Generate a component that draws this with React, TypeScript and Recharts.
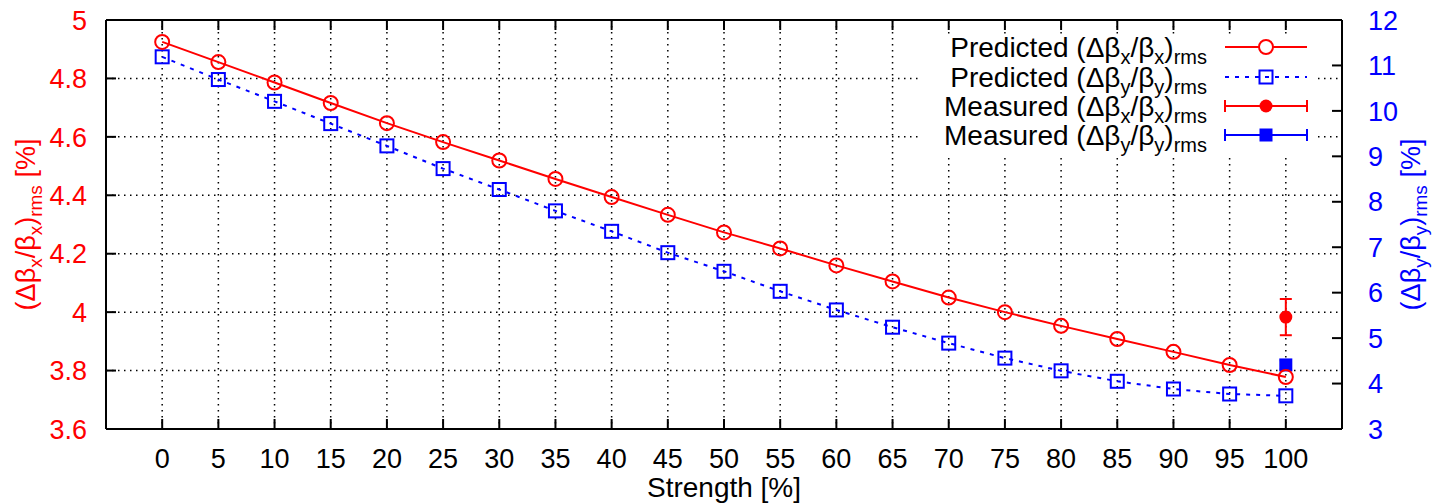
import React from "react";
import {
  ComposedChart,
  Line,
  Scatter,
  XAxis,
  YAxis,
  CartesianGrid,
  ReferenceLine,
  ErrorBar,
  Legend,
} from "recharts";

// Quadrupole strength scan [%]
const strength = [0, 5, 10, 15, 20, 25, 30, 35, 40, 45, 50, 55, 60, 65, 70, 75, 80, 85, 90, 95, 100];
// Predicted horizontal beta-beat, rms [%] (left axis)
const predictedX = [4.925, 4.856, 4.786, 4.716, 4.647, 4.582, 4.519, 4.456, 4.394, 4.333, 4.273, 4.218, 4.16, 4.105, 4.05, 4.0, 3.953, 3.908, 3.864, 3.819, 3.778];
// Predicted vertical beta-beat, rms [%] (right axis)
const predictedY = [11.19, 10.69, 10.21, 9.72, 9.23, 8.73, 8.27, 7.8, 7.35, 6.88, 6.47, 6.03, 5.62, 5.24, 4.89, 4.56, 4.28, 4.05, 3.88, 3.77, 3.73];
// Measured values at full strength, with errors
const measuredStrength = [100];
const measuredX = [3.983];
const measuredXErr = [0.062];
const measuredY = [4.41];
const measuredYErr = [0.1];

const xTicks = [0, 5, 10, 15, 20, 25, 30, 35, 40, 45, 50, 55, 60, 65, 70, 75, 80, 85, 90, 95, 100];
const leftTicks = [3.6, 3.8, 4.0, 4.2, 4.4, 4.6, 4.8, 5.0];
const rightTicks = [3, 4, 5, 6, 7, 8, 9, 10, 11, 12];

const predXData = strength.map((x, i) => ({ x, y: predictedX[i] }));
const predYData = strength.map((x, i) => ({ x, y: predictedY[i] }));
const measXData = measuredStrength.map((x, i) => ({ x, y: measuredX[i], err: measuredXErr[i] }));
const measYData = measuredStrength.map((x, i) => ({ x, y: measuredY[i], err: measuredYErr[i] }));

const W = 1437;
const H = 504;
const LEFT_W = 98;
const RIGHT_W = 103;
const TOP = 20;
const BOTTOM_H = 75;
const PLOT_H = H - TOP - BOTTOM_H;

const FONT = "'Liberation Sans', Arial, Helvetica, sans-serif";
const RED = "#ff0000";
const BLUE = "#0000ff";
const TICK_FS = 27;
const TICK_LEN = 10;

const fmt = (v: number) => String(Math.round(v * 10) / 10);

const BottomTick = (props: any) => {
  const { x, y, payload } = props;
  return (
    <g>
      <line x1={x} y1={y} x2={x} y2={y - TICK_LEN} stroke="#000" strokeWidth={2} />
      <line x1={x} y1={y - PLOT_H} x2={x} y2={y - PLOT_H + TICK_LEN} stroke="#000" strokeWidth={2} />
      <text x={x} y={y + 39} textAnchor="middle" fontSize={TICK_FS} fontFamily={FONT} fill="#000">
        {fmt(payload.value)}
      </text>
    </g>
  );
};

const LeftTick = (props: any) => {
  const { x, y, payload } = props;
  const v = payload.value;
  const inner = v > 3.61 && v < 4.99;
  return (
    <g>
      {inner && <line x1={x} y1={y} x2={x + TICK_LEN} y2={y} stroke="#000" strokeWidth={2} />}
      <text x={x - 19} y={y} dy="0.36em" textAnchor="end" fontSize={TICK_FS} fontFamily={FONT} fill={RED}>
        {fmt(v)}
      </text>
    </g>
  );
};

const RightTick = (props: any) => {
  const { x, y, payload } = props;
  const v = payload.value;
  const inner = v > 3 && v < 12;
  return (
    <g>
      {inner && <line x1={x} y1={y} x2={x - TICK_LEN} y2={y} stroke="#000" strokeWidth={2} />}
      <text x={x + 26} y={y} dy="0.36em" textAnchor="start" fontSize={TICK_FS} fontFamily={FONT} fill={BLUE}>
        {fmt(v)}
      </text>
    </g>
  );
};

// Axis title "(Δβ_a/β_a)_rms [%]" with subscripts, rotated
const BetaTitle = ({ x, y, sub, color }: { x: number; y: number; sub: string; color: string }) => (
  <text
    x={x}
    y={y}
    transform={`rotate(-90, ${x}, ${y})`}
    textAnchor="middle"
    fontSize={27}
    fontFamily={FONT}
    fill={color}
  >
    <tspan>(Δβ</tspan>
    <tspan fontSize={19} dy={7}>{sub}</tspan>
    <tspan dy={-7}>/β</tspan>
    <tspan fontSize={19} dy={7}>{sub}</tspan>
    <tspan dy={-7}>)</tspan>
    <tspan fontSize={19} dy={7}>rms</tspan>
    <tspan dy={-7}> [%]</tspan>
  </text>
);

const leftTitle = (props: any) => {
  const vb = props.viewBox;
  return <BetaTitle x={vb.x + 27} y={vb.y + vb.height / 2} sub="x" color={RED} />;
};

const rightTitle = (props: any) => {
  const vb = props.viewBox;
  return <BetaTitle x={vb.x + 78} y={vb.y + vb.height / 2} sub="y" color={BLUE} />;
};

const xTitle = (props: any) => {
  const vb = props.viewBox;
  return (
    <text x={vb.x + vb.width / 2} y={vb.y + 68} textAnchor="middle" fontSize={28} fontFamily={FONT} fill="#000">
      Strength [%]
    </text>
  );
};

const OpenCircle = (props: any) => {
  const { cx, cy, index } = props;
  if (cx == null || cy == null) return <g key={`c${index}`} />;
  return <circle key={`c${index}`} cx={cx} cy={cy} r={7} fill="none" stroke={RED} strokeWidth={2} />;
};

const OpenSquare = (props: any) => {
  const { cx, cy, index } = props;
  if (cx == null || cy == null) return <g key={`s${index}`} />;
  return <rect key={`s${index}`} x={cx - 6.5} y={cy - 6.5} width={13} height={13} fill="none" stroke={BLUE} strokeWidth={2} />;
};

const FilledCircle = (props: any) => <circle cx={props.cx} cy={props.cy} r={6.5} fill={RED} />;
const FilledSquare = (props: any) => <rect x={props.cx - 6.5} y={props.cy - 6.5} width={13} height={13} fill={BLUE} />;

const legendRows = [
  { label: "Predicted", sub: "x", kind: "predX" },
  { label: "Predicted", sub: "y", kind: "predY" },
  { label: "Measured", sub: "x", kind: "measX" },
  { label: "Measured", sub: "y", kind: "measY" },
];

const LEG_W = 396;
const LEG_H = 122;

const LegendBox = () => {
  const rowY = [13, 43, 72, 101];
  const x1 = 305;
  const x2 = 387;
  const mx = 346;
  return (
    <svg width={LEG_W} height={LEG_H} style={{ display: "block", background: "#fff", overflow: "visible" }}>
      {legendRows.map((r, i) => {
        const y = rowY[i];
        const color = r.sub === "x" ? RED : BLUE;
        return (
          <g key={i}>
            <text x={287} y={y + 10} textAnchor="end" fontSize={28} fontFamily={FONT} fill="#000">
              <tspan>{r.label} (Δβ</tspan>
              <tspan fontSize={20} dy={7}>{r.sub}</tspan>
              <tspan dy={-7}>/β</tspan>
              <tspan fontSize={20} dy={7}>{r.sub}</tspan>
              <tspan dy={-7}>)</tspan>
              <tspan fontSize={20} dy={7}>rms</tspan>
            </text>
            {r.kind === "predX" && (
              <g>
                <line x1={x1} y1={y} x2={x2} y2={y} stroke={RED} strokeWidth={2} />
                <circle cx={mx} cy={y} r={7} fill="#fff" stroke={RED} strokeWidth={2} />
              </g>
            )}
            {r.kind === "predY" && (
              <g>
                <line x1={x1} y1={y} x2={x2} y2={y} stroke={BLUE} strokeWidth={2} strokeDasharray="4 6" />
                <rect x={mx - 6.5} y={y - 6.5} width={13} height={13} fill="none" stroke={BLUE} strokeWidth={2} />
              </g>
            )}
            {(r.kind === "measX" || r.kind === "measY") && (
              <g stroke={color} strokeWidth={2}>
                <line x1={x1} y1={y} x2={x2} y2={y} />
                <line x1={x1} y1={y - 6} x2={x1} y2={y + 6} />
                <line x1={x2} y1={y - 6} x2={x2} y2={y + 6} />
                {r.kind === "measX" ? (
                  <circle cx={mx} cy={y} r={6.5} fill={RED} stroke="none" />
                ) : (
                  <rect x={mx - 6.5} y={y - 6.5} width={13} height={13} fill={BLUE} stroke="none" />
                )}
              </g>
            )}
          </g>
        );
      })}
    </svg>
  );
}

export default function App() {
  return (
    <div style={{ marginTop: -8, width: W, height: H }}>
      <ComposedChart
        width={W}
        height={H}
        margin={{ top: TOP, right: 0, bottom: 0, left: 0 }}
        style={{ fontFamily: FONT }}
      >
        <CartesianGrid
          yAxisId="left"
          stroke="#000"
          strokeWidth={1.5}
          strokeDasharray="1.5 4.5"
          horizontalValues={leftTicks}
          verticalValues={xTicks}
        />
        <XAxis
          dataKey="x"
          type="number"
          domain={[-5, 105]}
          ticks={xTicks}
          interval={0}
          height={BOTTOM_H}
          tickSize={0}
          tickMargin={0}
          tickLine={false}
          axisLine={{ stroke: "#000", strokeWidth: 2 }}
          tick={BottomTick}
          label={{ content: xTitle }}
          allowDataOverflow
        />
        <YAxis
          yAxisId="left"
          orientation="left"
          type="number"
          domain={[3.6, 5]}
          ticks={leftTicks}
          interval={0}
          width={LEFT_W}
          tickSize={0}
          tickMargin={0}
          tickLine={false}
          axisLine={{ stroke: "#000", strokeWidth: 2 }}
          tick={LeftTick}
          label={{ content: leftTitle }}
          allowDataOverflow
        />
        <YAxis
          yAxisId="right"
          orientation="right"
          type="number"
          domain={[3, 12]}
          ticks={rightTicks}
          interval={0}
          width={RIGHT_W}
          tickSize={0}
          tickMargin={0}
          tickLine={false}
          axisLine={{ stroke: "#000", strokeWidth: 2 }}
          tick={RightTick}
          label={{ content: rightTitle }}
          allowDataOverflow
        />
        <ReferenceLine yAxisId="left" y={5} stroke="#000" strokeWidth={2} />
        <Line
          yAxisId="right"
          data={predYData}
          dataKey="y"
          type="linear"
          stroke={BLUE}
          strokeWidth={2}
          strokeDasharray="4 6"
          dot={OpenSquare}
          activeDot={false}
          isAnimationActive={false}
        />
        <Line
          yAxisId="left"
          data={predXData}
          dataKey="y"
          type="linear"
          stroke={RED}
          strokeWidth={2}
          dot={OpenCircle}
          activeDot={false}
          isAnimationActive={false}
        />
        <Scatter yAxisId="left" data={measXData} dataKey="y" shape={FilledCircle} isAnimationActive={false}>
          <ErrorBar dataKey="err" direction="y" width={6} stroke={RED} strokeWidth={2} isAnimationActive={false} />
        </Scatter>
        <Scatter yAxisId="right" data={measYData} dataKey="y" shape={FilledSquare} isAnimationActive={false}>
          <ErrorBar dataKey="err" direction="y" width={6} stroke={BLUE} strokeWidth={2} isAnimationActive={false} />
        </Scatter>
        <Legend
          layout="vertical"
          align="center"
          verticalAlign="middle"
          content={LegendBox}
          wrapperStyle={{ position: "absolute", left: 912, top: 34, width: LEG_W, height: LEG_H, margin: 0, padding: 0, overflow: "visible" }}
        />
      </ComposedChart>
    </div>
  );
}
